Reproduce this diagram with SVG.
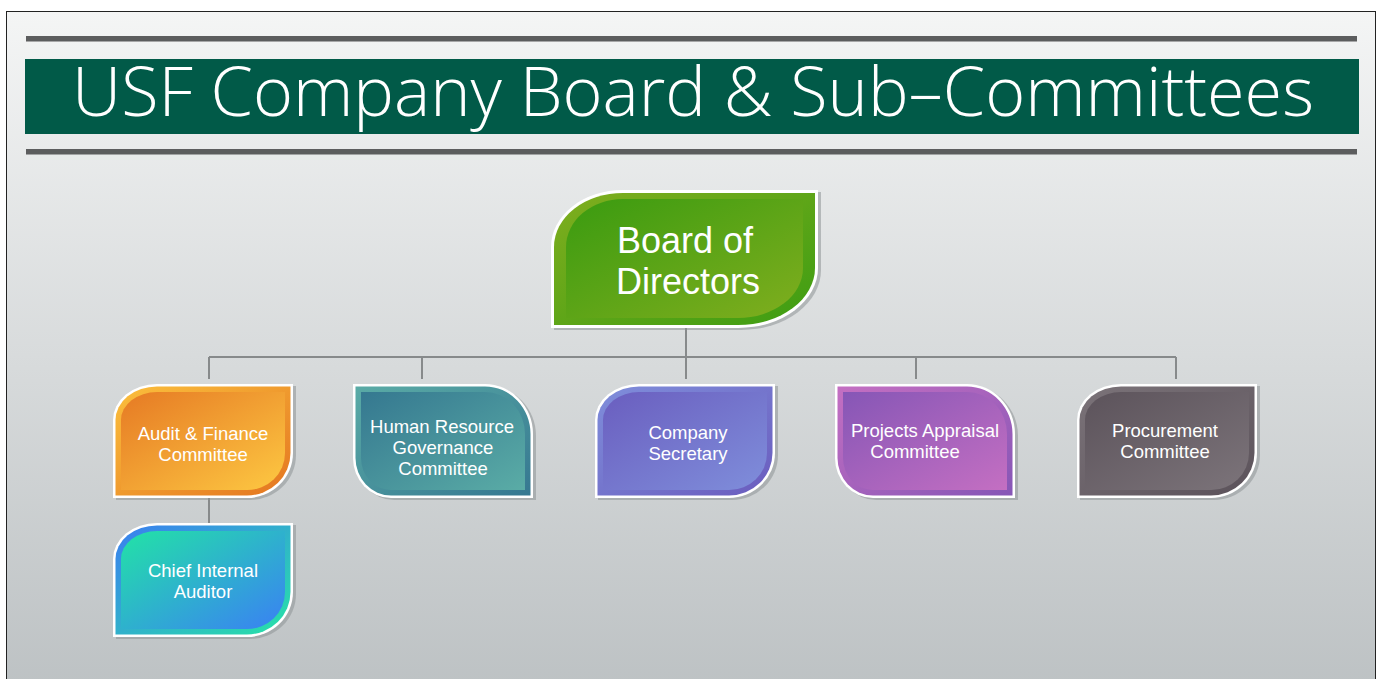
<svg xmlns="http://www.w3.org/2000/svg" xmlns:xlink="http://www.w3.org/1999/xlink" width="1377" height="679" viewBox="0 0 1377 679">
<style>
.title{font-family:"Open Sans","Liberation Sans",sans-serif;font-weight:300;font-size:69px;fill:#ffffff}
.lbl{font-family:"Liberation Sans",Arial,sans-serif;font-size:18.5px;fill:#ffffff;text-anchor:middle}
.big{font-family:"Liberation Sans",Arial,sans-serif;font-size:36px;fill:#ffffff;text-anchor:middle}
.conn{stroke:#878a8b;stroke-width:2;fill:none}
.bar{fill:#5c5d5e}
.shadow{fill:#8e9395;opacity:.55}
.edge{fill:#ffffff}
</style>
<defs>
<linearGradient id="bg" x1="0" y1="0" x2="0" y2="1">
<stop offset="0" stop-color="#f4f5f5"/><stop offset="1" stop-color="#bbc0c2"/>
</linearGradient>
<linearGradient id="gBoardR" x1="0" y1="0" x2="1" y2="1"><stop offset="0" stop-color="#80ae1e"/><stop offset="1" stop-color="#3d9d12"/></linearGradient>
<linearGradient id="gBoardI" x1="0" y1="0" x2="1" y2="1"><stop offset="0" stop-color="#3a9b10"/><stop offset="1" stop-color="#80ae1e"/></linearGradient>
<linearGradient id="gAudR" x1="0" y1="0" x2="1" y2="1"><stop offset="0" stop-color="#fbbf3c"/><stop offset="1" stop-color="#e47621"/></linearGradient>
<linearGradient id="gAudI" x1="0" y1="0" x2="1" y2="1"><stop offset="0" stop-color="#e67a24"/><stop offset="1" stop-color="#fdc842"/></linearGradient>
<linearGradient id="gHrR" x1="0" y1="0" x2="1" y2="1"><stop offset="0" stop-color="#5aaba6"/><stop offset="1" stop-color="#367891"/></linearGradient>
<linearGradient id="gHrI" x1="0" y1="0" x2="1" y2="1"><stop offset="0" stop-color="#357890"/><stop offset="1" stop-color="#5aaca6"/></linearGradient>
<linearGradient id="gCsR" x1="0" y1="0" x2="1" y2="1"><stop offset="0" stop-color="#7f8edb"/><stop offset="1" stop-color="#6a5cbe"/></linearGradient>
<linearGradient id="gCsI" x1="0" y1="0" x2="1" y2="1"><stop offset="0" stop-color="#6a5ebf"/><stop offset="1" stop-color="#7f8edb"/></linearGradient>
<linearGradient id="gPaR" x1="0" y1="0" x2="1" y2="1"><stop offset="0" stop-color="#c46fc2"/><stop offset="1" stop-color="#8656b6"/></linearGradient>
<linearGradient id="gPaI" x1="0" y1="0" x2="1" y2="1"><stop offset="0" stop-color="#8656b6"/><stop offset="1" stop-color="#c46fc2"/></linearGradient>
<linearGradient id="gPrR" x1="0" y1="0" x2="1" y2="1"><stop offset="0" stop-color="#7b7379"/><stop offset="1" stop-color="#5b525a"/></linearGradient>
<linearGradient id="gPrI" x1="0" y1="0" x2="1" y2="1"><stop offset="0" stop-color="#5c535b"/><stop offset="1" stop-color="#7c747a"/></linearGradient>
<linearGradient id="gCiR" x1="0" y1="0" x2="1" y2="1"><stop offset="0" stop-color="#3b7ef1"/><stop offset="1" stop-color="#27e3a6"/></linearGradient>
<linearGradient id="gCiI" x1="0" y1="0" x2="1" y2="1"><stop offset="0" stop-color="#22e3a6"/><stop offset="1" stop-color="#3a80f4"/></linearGradient>
<path id="aO" d="M0,36 A44,36 0 0 1 44,0 H180 V69 A46,45 0 0 1 134,114 H0 Z"/>
<path id="aR" d="M2.5,36 A41.5,33.5 0 0 1 44,2.5 H177.5 V69 A43.5,42.5 0 0 1 134,111.5 H2.5 Z"/>
<path id="aI" d="M8,36 A36,28 0 0 1 44,8 H172 V69 A38,37 0 0 1 134,106 H8 Z"/>
<path id="bO" d="M0,0 H132 A48,50 0 0 1 180,50 V114 H38 A38,40 0 0 1 0,74 Z"/>
<path id="bR" d="M2.5,2.5 H132 A45.5,47.5 0 0 1 177.5,50 V111.5 H38 A35.5,37.5 0 0 1 2.5,74 Z"/>
<path id="bI" d="M8,8 H132 A40,42 0 0 1 172,50 V106 H38 A30,32 0 0 1 8,74 Z"/>
</defs>

<rect x="6.5" y="11.5" width="1369" height="700" fill="url(#bg)" stroke="#222" stroke-width="1"/>

<g id="header">
<rect class="bar" x="26" y="36" width="1331" height="5.5"/>
<rect x="25" y="59" width="1334" height="75" fill="#015a48"/>
<text class="title" x="72" y="116" textLength="1242" lengthAdjust="spacingAndGlyphs">USF Company Board &amp; Sub–Committees</text>
<rect class="bar" x="26" y="149" width="1331" height="5.5"/>
</g>

<g id="connectors">
<path class="conn" d="M686,328 V357 M209,357 H1176 M209,357 V379 M422,357 V379 M686,357 V379 M916,357 V379 M1176,357 V379 M209,498 V523"/>
</g>

<g id="board">
<path class="shadow" transform="translate(3,2)" d="M551,247 A72,57 0 0 1 623,190 H818 V268 A80,60 0 0 1 738,328 H551 Z"/>
<path class="edge" d="M551,247 A72,57 0 0 1 623,190 H818 V268 A80,60 0 0 1 738,328 H551 Z"/>
<path fill="url(#gBoardR)" d="M554,247 A69,54 0 0 1 623,193 H815 V268 A77,57 0 0 1 738,325 H554 Z"/>
<path fill="url(#gBoardI)" d="M566,247 A57,48 0 0 1 623,199 H803 V268 A65,50 0 0 1 738,318 H566 Z"/>
<text class="big" x="685" y="253">Board of</text>
<text class="big" x="688" y="294">Directors</text>
</g>

<g id="audit" transform="translate(113,384)">
<use href="#aO" class="shadow" transform="translate(3,2)"/>
<use href="#aO" fill="#ffffff"/>
<use href="#aR" fill="url(#gAudR)"/>
<use href="#aI" fill="url(#gAudI)"/>
<text class="lbl" x="90" y="56">Audit &amp; Finance</text>
<text class="lbl" x="90" y="77">Committee</text>
</g>

<g id="hr" transform="translate(353,384)">
<use href="#bO" class="shadow" transform="translate(3,2)"/>
<use href="#bO" fill="#ffffff"/>
<use href="#bR" fill="url(#gHrR)"/>
<use href="#bI" fill="url(#gHrI)"/>
<text class="lbl" x="89" y="49">Human Resource</text>
<text class="lbl" x="90" y="70">Governance</text>
<text class="lbl" x="90" y="91">Committee</text>
</g>

<g id="secretary" transform="translate(595,384)">
<use href="#aO" class="shadow" transform="translate(3,2)"/>
<use href="#aO" fill="#ffffff"/>
<use href="#aR" fill="url(#gCsR)"/>
<use href="#aI" fill="url(#gCsI)"/>
<text class="lbl" x="93" y="55">Company</text>
<text class="lbl" x="93" y="76">Secretary</text>
</g>

<g id="projects" transform="translate(835,384)">
<use href="#bO" class="shadow" transform="translate(3,2)"/>
<use href="#bO" fill="#ffffff"/>
<use href="#bR" fill="url(#gPaR)"/>
<use href="#bI" fill="url(#gPaI)"/>
<text class="lbl" x="90" y="53">Projects Appraisal</text>
<text class="lbl" x="80" y="74">Committee</text>
</g>

<g id="procurement" transform="translate(1077,384)">
<use href="#aO" class="shadow" transform="translate(3,2)"/>
<use href="#aO" fill="#ffffff"/>
<use href="#aR" fill="url(#gPrR)"/>
<use href="#aI" fill="url(#gPrI)"/>
<text class="lbl" x="88" y="53">Procurement</text>
<text class="lbl" x="88" y="74">Committee</text>
</g>

<g id="chief" transform="translate(113,523)">
<use href="#aO" class="shadow" transform="translate(3,2)"/>
<use href="#aO" fill="#ffffff"/>
<use href="#aR" fill="url(#gCiR)"/>
<use href="#aI" fill="url(#gCiI)"/>
<text class="lbl" x="90" y="54">Chief Internal</text>
<text class="lbl" x="90" y="75">Auditor</text>
</g>
</svg>
